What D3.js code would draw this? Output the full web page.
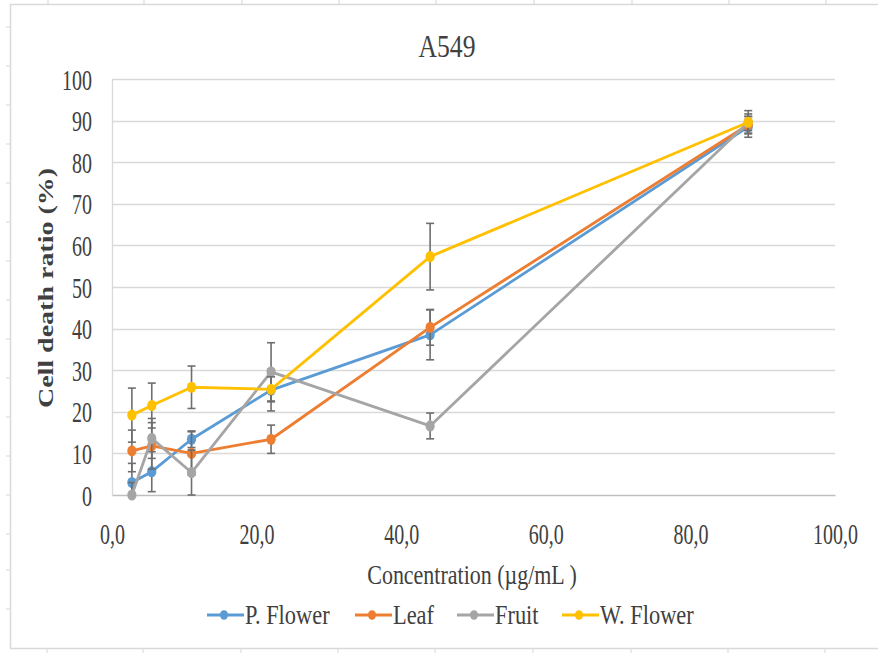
<!DOCTYPE html>
<html>
<head>
<meta charset="utf-8">
<script src="https://cdn.jsdelivr.net/npm/d3@7"></script>
<style>
  html, body { margin: 0; padding: 0; background: #fff; }
  svg { display: block; }
  text { font-family: "Liberation Serif", "Times New Roman", serif; fill: #404040; }
</style>
</head>
<body>
<script>
// Concentrations (µg/mL)
const concentrations = [2.75, 5.5, 11, 22, 44, 88];

// Cell death ratio (%) per extract
const pFlower = [3.0, 5.6, 13.4, 25.2, 38.5, 88.5];
const leaf    = [10.6, 11.8, 10.0, 13.4, 40.3, 89.0];
const fruit   = [0.0, 13.6, 5.4, 29.6, 16.6, 89.6];
const wFlower = [19.2, 21.5, 25.9, 25.4, 57.3, 89.6];

// Standard deviations
const pFlowerErr = [4.6, 4.8, 2.0, 5.0, 6.0, 2.5];
const leafErr    = [5.0, 5.6, 5.2, 3.4, 4.3, 2.0];
const fruitErr   = [3.0, 4.8, 5.4, 7.0, 3.1, 2.8];
const wFlowerErr = [6.5, 5.4, 5.1, 3.0, 8.0, 2.0];

const seriesNames  = ["P. Flower", "Leaf", "Fruit", "W. Flower"];
const seriesColors = ["#5B9BD5", "#ED7D31", "#A5A5A5", "#FFC000"];

const yTicks = [0, 10, 20, 30, 40, 50, 60, 70, 80, 90, 100];
const xTicks = [0, 20, 40, 60, 80, 100];

const series = [
  { name: seriesNames[0], color: seriesColors[0], values: pFlower, errs: pFlowerErr },
  { name: seriesNames[1], color: seriesColors[1], values: leaf,    errs: leafErr },
  { name: seriesNames[2], color: seriesColors[2], values: fruit,   errs: fruitErr },
  { name: seriesNames[3], color: seriesColors[3], values: wFlower, errs: wFlowerErr }
];

const W = 878, H = 653;
const FONT = "Liberation Serif, Times New Roman, serif";

const svg = d3.select("body").append("svg").attr("width", W).attr("height", H);

// Spreadsheet cell lines peeking around the chart frame
const g0 = svg.append("g").attr("stroke", "#dcdcdc").attr("stroke-width", 1.2);
[48, 144, 242, 339, 436, 534, 632, 729, 826].forEach(cx => {
  g0.append("line").attr("x1", cx).attr("x2", cx).attr("y1", 0).attr("y2", 4);
  g0.append("line").attr("x1", cx - 1).attr("x2", cx - 1).attr("y1", 649).attr("y2", 653);
});
[27, 66, 105, 144, 183, 222, 261, 300, 339, 378, 417, 456, 495, 534, 570, 609].forEach(cy => {
  g0.append("line").attr("x1", 6).attr("x2", 10).attr("y1", cy).attr("y2", cy);
});

// Chart frame
svg.append("rect")
  .attr("x", 10.5).attr("y", 4.5).attr("width", W + 10).attr("height", 644)
  .attr("fill", "#fff").attr("stroke", "#d9d9d9").attr("stroke-width", 1.5);

const x = d3.scaleLinear().domain([0, 100]).range([112, 835]);
const y = d3.scaleLinear().domain([0, 100]).range([495, 79]);

// Narrow text placed at (tx, ty)
function narrowText(parent, tx, ty, size, sx) {
  return parent.append("text")
    .attr("font-family", FONT).attr("font-size", size)
    .attr("transform", `translate(${tx},${ty}) scale(${sx},1)`);
}

// Title
narrowText(svg, 447, 57, 32, 0.8).attr("text-anchor", "middle").text("A549");

// Gridlines
svg.append("g").selectAll("line")
  .data(yTicks.filter(d => d > 0))
  .join("line")
  .attr("x1", x(0)).attr("x2", x(100))
  .attr("y1", d => Math.round(y(d)) + 0.5).attr("y2", d => Math.round(y(d)) + 0.5)
  .attr("stroke", "#d9d9d9").attr("stroke-width", 1.3);

// Left frame of plot area
svg.append("line")
  .attr("x1", x(0) + 0.5).attr("x2", x(0) + 0.5)
  .attr("y1", y(100)).attr("y2", y(0))
  .attr("stroke", "#d9d9d9").attr("stroke-width", 1.3);

// Y axis
const yAxis = svg.append("g")
  .attr("transform", `translate(${x(0)},0)`)
  .call(d3.axisLeft(y).tickValues(yTicks).tickSize(0));
yAxis.select(".domain").remove();
yAxis.selectAll("text")
  .attr("x", null).attr("dy", "0.35em")
  .attr("font-family", FONT).attr("font-size", 29).attr("fill", "#404040")
  .attr("transform", "translate(-20,0) scale(0.69,1)");

// X axis
const xAxis = svg.append("g")
  .attr("transform", `translate(0,${y(0)})`)
  .call(d3.axisBottom(x).tickValues(xTicks).tickSize(0)
    .tickFormat(d => d3.format(".1f")(d).replace(".", ",")));
xAxis.select(".domain")
  .attr("stroke", "#bfbfbf").attr("stroke-width", 1.3);
xAxis.selectAll("text")
  .attr("y", null).attr("dy", "0.35em")
  .attr("font-family", FONT).attr("font-size", 29).attr("fill", "#404040")
  .attr("transform", "translate(0,39) scale(0.69,1)");

// Axis titles
narrowText(svg, 472, 584, 28, 0.785).attr("text-anchor", "middle")
  .text("Concentration (µg/mL )");

svg.append("text")
  .attr("font-family", FONT)
  .attr("transform", "translate(53,288) scale(0.75,1) rotate(-90)")
  .attr("text-anchor", "middle").attr("font-size", 28).attr("font-weight", "bold")
  .attr("fill", "#595959")
  .text("Cell death ratio (%)");

// Series: error bars, line, markers
const line = d3.line().x((d, i) => x(concentrations[i])).y(d => y(d));
series.forEach(s => {
  const g = svg.append("g");
  const eb = g.append("g").attr("stroke", "#6e6e6e").attr("stroke-width", 1.6);
  s.values.forEach((v, i) => {
    const cx = x(concentrations[i]);
    const lo = y(Math.max(0, v - s.errs[i])), hi = y(v + s.errs[i]);
    eb.append("line").attr("x1", cx).attr("x2", cx).attr("y1", lo).attr("y2", hi);
    if (v - s.errs[i] >= 0)
      eb.append("line").attr("x1", cx - 4).attr("x2", cx + 4).attr("y1", lo).attr("y2", lo);
    eb.append("line").attr("x1", cx - 4).attr("x2", cx + 4).attr("y1", hi).attr("y2", hi);
  });
  g.append("path").datum(s.values)
    .attr("d", line).attr("fill", "none")
    .attr("stroke", s.color).attr("stroke-width", 2.8).attr("stroke-linejoin", "round");
  g.selectAll("ellipse").data(s.values).join("ellipse")
    .attr("cx", (d, i) => x(concentrations[i])).attr("cy", d => y(d))
    .attr("rx", 4.6).attr("ry", 5.6).attr("fill", s.color);
});

// Legend
const legendX = [207, 355, 457, 562];
const legend = svg.append("g");
series.forEach((s, i) => {
  const lx = legendX[i], ly = 615;
  legend.append("line").attr("x1", lx).attr("x2", lx + 37).attr("y1", ly).attr("y2", ly)
    .attr("stroke", s.color).attr("stroke-width", 2.8);
  legend.append("ellipse").attr("cx", lx + 17).attr("cy", ly).attr("rx", 4).attr("ry", 4.8)
    .attr("fill", s.color);
  narrowText(legend, lx + 38, ly + 9, 28, 0.8).text(s.name);
});
</script>
</body>
</html>
